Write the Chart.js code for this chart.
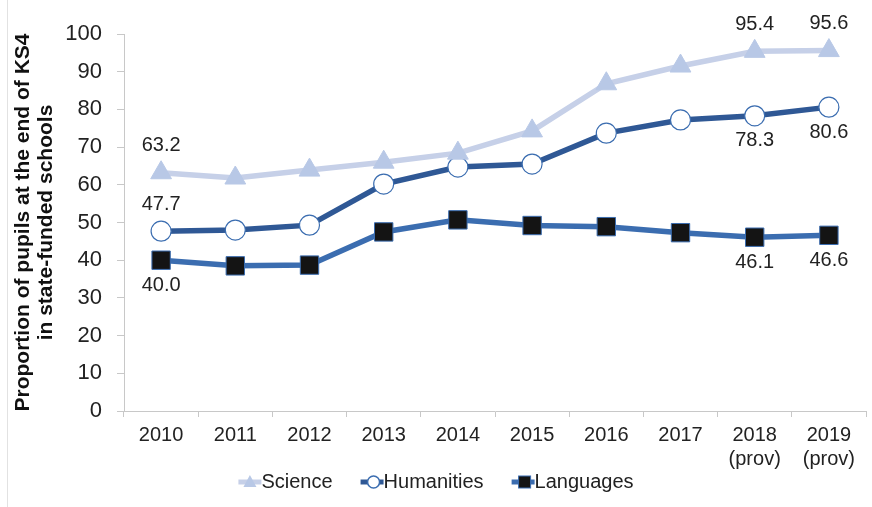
<!DOCTYPE html>
<html>
<head>
<meta charset="utf-8">
<script src="https://cdn.jsdelivr.net/npm/chart.js@4.4.1/dist/chart.umd.min.js"></script>
<style>
html,body{margin:0;padding:0;background:#fff;}
#wrap{width:872px;height:507px;position:relative;}
</style>
</head>
<body>
<div id="wrap"><canvas id="c" width="872" height="507"></canvas></div>
<script>
const categories = ["2010","2011","2012","2013","2014","2015","2016","2017",["2018","(prov)"],["2019","(prov)"]];
const seriesNames = ["Science","Humanities","Languages"];
const science    = [63.2, 61.8, 63.9, 66.0, 68.4, 74.3, 86.8, 91.5, 95.4, 95.6];
const humanities = [47.7, 48.0, 49.3, 60.2, 64.7, 65.5, 73.7, 77.2, 78.3, 80.6];
const languages  = [40.0, 38.5, 38.7, 47.5, 50.7, 49.2, 48.9, 47.3, 46.1, 46.6];
const yTicks = [0,10,20,30,40,50,60,70,80,90,100];
// which points carry a value label, and where (above/below)
const labelIdx = [0, 8, 9];
const labelPos = [
  ['above','above','above'],
  ['above','below','below'],
  ['below','below','below']
];

const FONT = "'Liberation Sans', Arial, sans-serif";
const COLORS = {
  sciLine:'#c6d0e8', sciMark:'#b8c8e6',
  humLine:'#2f5895', humMarkBorder:'#3b6db0',
  lanLine:'#3b6db0', lanMark:'#141414'
};

function drawLegendIcon(g, kind, x, cy){
  g.save();
  g.lineWidth = 5;
  if(kind===0){
    g.strokeStyle = COLORS.sciLine;
    g.beginPath(); g.moveTo(x,cy); g.lineTo(x+23,cy); g.stroke();
    g.fillStyle = COLORS.sciMark;
    g.beginPath(); g.moveTo(x+11.5,cy-7); g.lineTo(x+18,cy+5); g.lineTo(x+5,cy+5); g.closePath(); g.fill();
  } else if(kind===1){
    g.strokeStyle = COLORS.humLine;
    g.beginPath(); g.moveTo(x,cy); g.lineTo(x+23,cy); g.stroke();
    g.fillStyle = '#fff'; g.strokeStyle = COLORS.humMarkBorder; g.lineWidth = 1.5;
    g.beginPath(); g.arc(x+13,cy,6,0,Math.PI*2); g.fill(); g.stroke();
  } else {
    g.strokeStyle = COLORS.lanLine;
    g.beginPath(); g.moveTo(x,cy); g.lineTo(x+23,cy); g.stroke();
    g.fillStyle = COLORS.lanMark; g.strokeStyle = COLORS.lanLine; g.lineWidth = 1;
    g.fillRect(x+7,cy-6,12,12); g.strokeRect(x+7,cy-6,12,12);
  }
  g.restore();
}

const decorations = {
  id: 'decorations',
  beforeDraw(chart){
    const ctx = chart.ctx;
    ctx.save();
    ctx.strokeStyle = '#e2e2e2'; ctx.lineWidth = 1;
    ctx.beginPath(); ctx.moveTo(7.5,0); ctx.lineTo(7.5,chart.height); ctx.stroke();
    ctx.restore();
  },
  afterDatasetsDraw(chart){
    const ctx = chart.ctx;
    ctx.save();
    ctx.font = "20px " + FONT;
    ctx.fillStyle = '#222';
    ctx.textAlign = 'center';
    ctx.textBaseline = 'middle';
    chart.data.datasets.forEach((ds, di) => {
      const meta = chart.getDatasetMeta(di);
      labelIdx.forEach((i, k) => {
        const pt = meta.data[i];
        const v = ds.data[i];
        const dy = labelPos[di][k]==='above' ? -27 : 25;
        ctx.fillText(v.toFixed(1), pt.x, pt.y + dy);
      });
    });
    ctx.restore();
  },
  afterDraw(chart){
    const ctx = chart.ctx;
    ctx.save();
    ctx.font = "20px " + FONT;
    ctx.fillStyle = '#222';
    ctx.textBaseline = 'middle';
    ctx.textAlign = 'left';
    const gap = 28, iconW = 23;
    const widths = seriesNames.map(n => iconW + ctx.measureText(n).width);
    const total = widths.reduce((a,b)=>a+b,0) + gap*(seriesNames.length-1);
    let x = chart.width/2 - total/2;
    const cy = 482;
    seriesNames.forEach((n,i)=>{
      drawLegendIcon(ctx, i, x, cy);
      ctx.fillText(n, x+iconW, cy);
      x += widths[i] + gap;
    });
    ctx.restore();
  }
};

new Chart(document.getElementById('c'), {
  type: 'line',
  data: {
    labels: categories,
    datasets: [
      {label:seriesNames[0], data: science, borderColor:COLORS.sciLine, backgroundColor:COLORS.sciMark,
       pointBackgroundColor:COLORS.sciMark, pointBorderColor:COLORS.sciMark, pointStyle:'triangle',
       pointRadius:12, pointBorderWidth:1, borderWidth:5.5, tension:0},
      {label:seriesNames[1], data: humanities, borderColor:COLORS.humLine, backgroundColor:'#fff',
       pointBackgroundColor:'#fff', pointBorderColor:COLORS.humMarkBorder, pointStyle:'circle',
       pointRadius:10, pointBorderWidth:1.2, borderWidth:5.5, tension:0},
      {label:seriesNames[2], data: languages, borderColor:COLORS.lanLine, backgroundColor:COLORS.lanMark,
       pointBackgroundColor:COLORS.lanMark, pointBorderColor:COLORS.lanLine, pointStyle:'rect',
       pointRadius:13, pointBorderWidth:1, borderWidth:5.5, tension:0}
    ]
  },
  options: {
    responsive:false, animation:false, devicePixelRatio:1,
    layout:{autoPadding:false, padding:{top:34, right:6, left:0, bottom:36}},
    plugins:{ tooltip:{enabled:false}, legend:{display:false} },
    scales:{
      x:{
        offset:true,
        afterFit(scale){ scale.height = 60; scale.paddingRight = 0; scale.paddingLeft = 0; },
        grid:{offset:true, drawOnChartArea:false, tickLength:6, color:'#c8c8c8'},
        border:{color:'#c8c8c8'},
        ticks:{font:{family:FONT, size:20}, color:'#222', maxRotation:0, padding:6}
      },
      y:{
        min:0, max:100,
        afterBuildTicks(scale){ scale.ticks = yTicks.map(v=>({value:v})); },
        afterFit(scale){ scale.width = 124; scale.paddingTop = 0; scale.paddingBottom = 0; },
        grid:{drawOnChartArea:false, tickLength:7, color:'#c8c8c8'},
        border:{color:'#c8c8c8'},
        ticks:{font:{family:FONT, size:22}, color:'#222', padding:15},
        title:{display:true, text:['Proportion of pupils at the end of KS4','in state-funded schools'],
               font:{family:FONT, size:21, weight:'bold', lineHeight:1.1}, color:'#111', padding:{top:12,bottom:0}}
      }
    }
  },
  plugins:[decorations]
});
</script>
</body>
</html>
